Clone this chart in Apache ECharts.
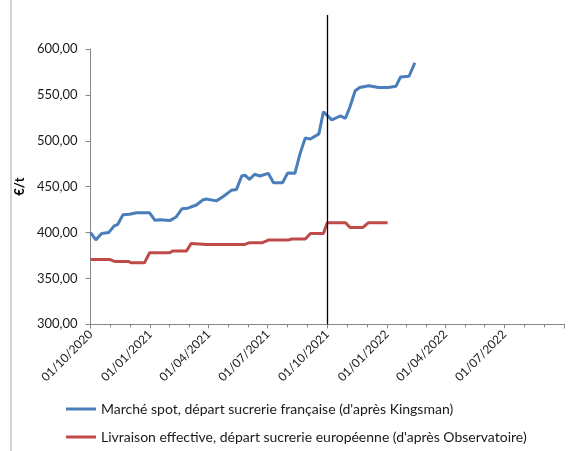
<!DOCTYPE html>
<html>
<head>
<meta charset="utf-8">
<script src="https://cdn.jsdelivr.net/npm/echarts@6/dist/echarts.min.js"></script>
<style>
html,body{margin:0;padding:0;background:#fff;}
#c{width:579px;height:451px;}
</style>
</head>
<body>
<div id="c"></div>
<script>
// ---- data ----
const spotName = "Marché spot, départ sucrerie française (d'après Kingsman)";
const deliveryName = "Livraison effective, départ sucrerie européenne (d'après Observatoire)";

const spotDates = ['2020-10-01','2020-10-09','2020-10-18','2020-10-29','2020-11-06','2020-11-12','2020-11-20','2020-11-30','2020-12-11','2020-12-31',
  '2021-01-08','2021-01-16','2021-01-31','2021-02-10','2021-02-19','2021-02-28','2021-03-13','2021-03-23','2021-03-28','2021-04-13',
  '2021-04-23','2021-05-06','2021-05-14','2021-05-22','2021-05-27','2021-06-03','2021-06-11','2021-06-19','2021-07-02','2021-07-10',
  '2021-07-24','2021-08-01','2021-08-12','2021-08-20','2021-08-28','2021-09-05','2021-09-18','2021-09-25','2021-10-08','2021-10-21',
  '2021-10-29','2021-11-05','2021-11-13','2021-11-20','2021-12-04','2021-12-19','2022-01-03','2022-01-15','2022-01-22','2022-02-04','2022-02-13'];
const spotValues = [400,392,399,400,407,409,419.5,420,421.5,421.5,
  413.5,414,413,417,426,426.5,430,435.5,436.5,434.5,
  439,446,447,461.6,462.6,458,463.5,461.6,464.5,454.3,
  454.3,465,464.5,486,503,502,507.5,531.5,522.7,527,
  524.5,537,554.5,558,560,558,558,559.5,569.6,570.3,585];

const deliveryDates = ['2020-10-01','2020-10-31','2020-11-07','2020-11-28','2020-12-03','2020-12-23','2020-12-31','2021-01-31','2021-02-05','2021-02-26',
  '2021-03-05','2021-03-29','2021-05-27','2021-06-03','2021-06-23','2021-07-02','2021-08-02','2021-08-07','2021-08-28','2021-09-05',
  '2021-09-25','2021-10-01','2021-10-29','2021-11-05','2021-11-25','2021-12-03','2022-01-02'];
const deliveryValues = [370.6,370.6,368.5,368.5,367,367,378,378,380,380,
  388,387,387,389,389,391.8,391.8,393,393,399,
  399,410.6,410.6,405.6,405.6,410.6,410.6];

const xMin = '2020-10-01';
const xMax = '2022-10-01';
const yMin = 300, yMax = 600, yStep = 50;
const markerDate = '2021-10-01';
const markerTop = 637;
const yAxisTitle = '€/t';

// ---- chart ----
const FONT = 'Lato, "Open Sans", sans-serif';
const chart = echarts.init(document.getElementById('c'), null, {renderer:'canvas'});
const pad = n => (n < 10 ? '0' : '') + n;
const maxTs = new Date(2022, 9, 1).getTime();
const fmtDate = v => { if (v >= maxTs) return ''; const d = new Date(v); return pad(d.getDate()) + '/' + pad(d.getMonth()+1) + '/' + d.getFullYear(); };
const legendText = {fontSize: 14, color: '#1a1a1a', fontFamily: FONT};

chart.setOption({
  animation: false,
  backgroundColor: '#fff',
  textStyle: {fontFamily: FONT},
  grid: {left: 90.6, right: 15, top: 49, bottom: 126.7},
  xAxis: {
    type: 'time', min: xMin, max: xMax, splitNumber: 8,
    axisLine: {show: true, lineStyle: {color: '#868686', width: 1}},
    axisTick: {show: true, length: 4, lineStyle: {color: '#868686'}},
    minorTick: {show: true, splitNumber: 3, length: 3, lineStyle: {color: '#868686'}},
    splitLine: {show: false},
    axisLabel: {rotate: 45, formatter: fmtDate, color: '#1a1a1a', fontSize: 12, fontFamily: FONT, margin: 8, hideOverlap: false}
  },
  yAxis: {
    type: 'value', min: yMin, max: yMax, interval: yStep,
    name: yAxisTitle, nameLocation: 'middle', nameGap: 62, nameRotate: 90,
    nameTextStyle: {fontWeight: 'bold', fontSize: 13, color: '#000', fontFamily: FONT},
    axisLine: {show: true, lineStyle: {color: '#868686', width: 1}},
    axisTick: {show: true, length: 5, lineStyle: {color: '#868686'}},
    splitLine: {show: false},
    axisLabel: {formatter: v => v.toFixed(2).replace('.', ','), color: '#1a1a1a', fontSize: 13, fontFamily: FONT, margin: 13}
  },
  legend: [{
    left: 61, top: 397, itemWidth: 30, itemHeight: 3, icon: 'rect',
    textStyle: legendText, data: [spotName]
  },{
    left: 61, top: 425, itemWidth: 30, itemHeight: 3, icon: 'rect',
    textStyle: legendText, data: [deliveryName]
  }],
  series: [{
    name: spotName, type: 'line',
    data: spotDates.map((d, i) => [d, spotValues[i]]),
    showSymbol: false, symbol: 'none',
    lineStyle: {color: '#4a7ebb', width: 3}, itemStyle: {color: '#4a7ebb'},
    z: 3
  },{
    name: deliveryName, type: 'line',
    data: deliveryDates.map((d, i) => [d, deliveryValues[i]]),
    showSymbol: false, symbol: 'none',
    lineStyle: {color: '#be4b48', width: 3}, itemStyle: {color: '#be4b48'},
    z: 2
  }]
});

// vertical marker line, positioned through the chart's own scales
const pBottom = chart.convertToPixel({gridIndex: 0}, [markerDate, yMin]);
const pTop = chart.convertToPixel({gridIndex: 0}, [markerDate, markerTop]);
chart.setOption({
  graphic: [{
    type: 'line', shape: {x1: 11, y1: 0, x2: 11, y2: 451},
    style: {stroke: '#a6a6a6', lineWidth: 1}, silent: true
  },{
    type: 'line', shape: {x1: Math.round(pBottom[0]) + 0.5, y1: pBottom[1], x2: Math.round(pTop[0]) + 0.5, y2: pTop[1]},
    style: {stroke: '#000', lineWidth: 1.3}, silent: true, z: 10
  }]
});
</script>
</body>
</html>
